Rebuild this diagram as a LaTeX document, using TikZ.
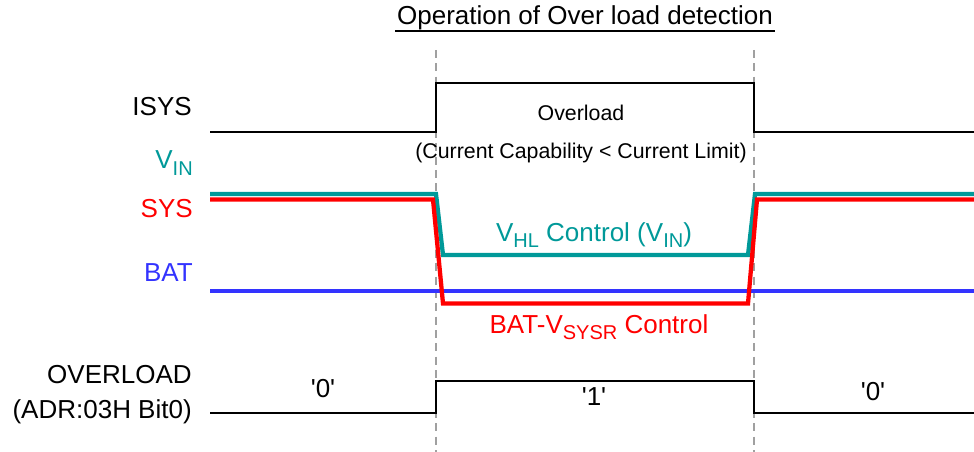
\documentclass[tikz,border=0pt]{standalone}
\usepackage{fontspec}
\setmainfont{Liberation Sans}[Ligatures=TeXOff]
\definecolor{tealc}{RGB}{0,153,153}
\definecolor{bluec}{RGB}{51,51,255}
\definecolor{redc}{RGB}{255,0,0}
\definecolor{grayd}{RGB}{160,160,160}
\newcommand{\mysub}[1]{\raisebox{-0.45ex}{\fontsize{15pt}{16pt}\selectfont #1}}
\begin{document}
\begin{tikzpicture}[x=0.75pt,y=-0.75pt,
  big/.style={font=\fontsize{19.5pt}{22pt}\selectfont, inner sep=0pt},
  small/.style={font=\fontsize{16pt}{18pt}\selectfont, inner sep=0pt},
  sig/.style={line width=1.9pt, line join=miter},
  wave/.style={line width=3.2pt, line join=miter},
  guide/.style={grayd, line width=1.3pt, dash pattern=on 6pt off 4pt}]
\useasboundingbox (0,0) rectangle (974,452);
% title
\node[big] (title) at (585,18) {Operation of Over load detection};
\draw[line width=1.3pt] (395,31) -- (775,31);
% guides
\draw[guide] (436,50) -- (436,452);
\draw[guide] (754,50) -- (754,452);
% ISYS
\node[big, anchor=east] (isys) at (192,107) {ISYS};
\draw[sig] (210,132) -- (436,132) -- (436,83) -- (754,83) -- (754,132) -- (974,132);
\node[small] (ovl) at (581,113) {Overload};
\node[small] (cap) at (581,153) {(Current Capability < Current Limit)};
% labels
\node[big, anchor=east, text=tealc] (vin) at (193,163) {V\mysub{IN}};
\node[big, anchor=east, text=redc] (sys) at (193,209) {SYS};
\node[big, anchor=east, text=bluec] (bat) at (193,273) {BAT};
% BAT
\draw[wave, bluec] (210,291) -- (974,291);
% VIN
\draw[wave, tealc] (210,194) -- (436,194) -- (443,255) -- (748,255) -- (755,194) -- (974,194);
% SYS
\draw[wave, redc] (210,199.5) -- (433,199.5) -- (443,303.5) -- (748,303.5) -- (757,199.5) -- (974,199.5);
\node[big, text=tealc] (vhl) at (594,235) {V\mysub{HL} Control (V\mysub{IN})};
\node[big, text=redc] (bsysr) at (599,327) {BAT-V\mysub{SYSR} Control};
% OVERLOAD
\node[big, anchor=east] (ovlab) at (192,375) {OVERLOAD};
\node[big, anchor=east] (adr) at (192,412) {(ADR:03H Bit0)};
\draw[sig] (210,413) -- (436,413) -- (436,381) -- (754,381) -- (754,413) -- (974,413);
\node[big] (z1) at (323,389) {'0'};
\node[big] (o1) at (594,397) {'1'};
\node[big] (z2) at (873,392) {'0'};
\end{tikzpicture}
\end{document}
